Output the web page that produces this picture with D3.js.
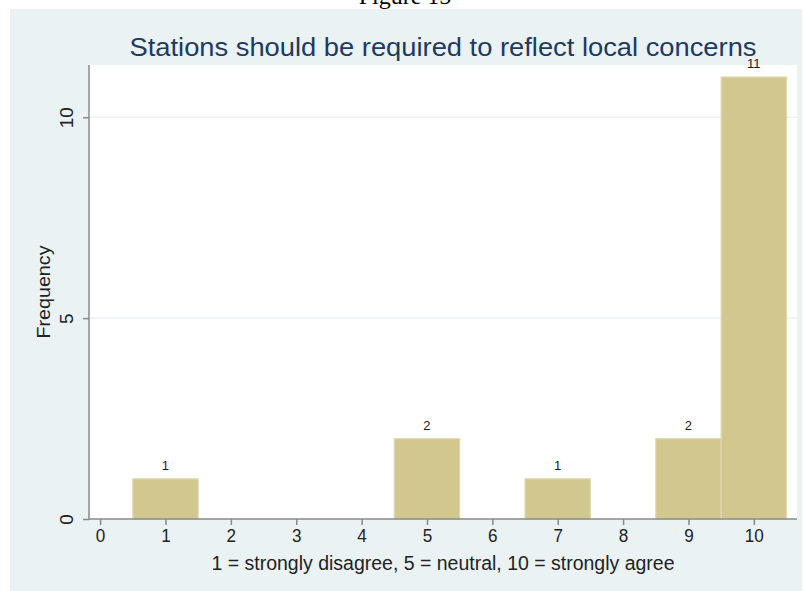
<!DOCTYPE html>
<html><head><meta charset="utf-8">
<script src="https://cdn.jsdelivr.net/npm/d3@7"></script>
<style>
html,body{margin:0;padding:0;background:#fff;}
svg{display:block;}
</style></head>
<body>
<svg id="c" width="804" height="591"></svg>
<script>
const categories = [1, 5, 7, 9, 10];
const frequencies = [1, 2, 1, 2, 11];
const xTicks = [0,1,2,3,4,5,6,7,8,9,10];
const yTicks = [0,5,10];
const titleText = "Stations should be required to reflect local concerns";
const xTitle = "1 = strongly disagree, 5 = neutral, 10 = strongly agree";
const yTitle = "Frequency";
const figureLabel = "Figure 15";

const svg = d3.select("#c");
const panel = {x:10, y:9, w:792, h:582};
const plot = {left:89, right:797, top:65, bottom:519};
const sans = "Liberation Sans, Arial, Helvetica, sans-serif";

svg.append("text").attr("x",405).attr("y",4).attr("text-anchor","middle")
  .attr("font-family","Liberation Serif, Times New Roman, serif").attr("font-size",24).attr("fill","#000")
  .text(figureLabel);

svg.append("rect").attr("x",panel.x).attr("y",panel.y).attr("width",panel.w).attr("height",panel.h).attr("fill","#eaf2f3");

const x = d3.scaleLinear().domain([-0.17, 10.66]).range([plot.left, plot.right]);
const y = d3.scaleLinear().domain([0, 11.3]).range([plot.bottom, plot.top]);

svg.append("rect").attr("x",plot.left).attr("y",plot.top).attr("width",plot.right-plot.left).attr("height",plot.bottom-plot.top).attr("fill","#fff");

// gridlines
svg.append("g").selectAll("line").data(yTicks.filter(d=>d>0)).join("line")
  .attr("x1",plot.left).attr("x2",plot.right).attr("y1",d=>y(d)).attr("y2",d=>y(d))
  .attr("stroke","#eaf2f3").attr("stroke-width",1.5);

// bars
const data = categories.map((c,i)=>({c, v:frequencies[i]}));
svg.append("g").selectAll("rect").data(data).join("rect")
  .attr("x",d=>x(d.c-0.5)).attr("width",d=>x(d.c+0.5)-x(d.c-0.5))
  .attr("y",d=>y(d.v)).attr("height",d=>y(0)-y(d.v))
  .attr("fill","#d1c78f").attr("stroke","#e0d9ad").attr("stroke-width",1.2);

// value labels
svg.append("g").selectAll("text").data(data).join("text")
  .attr("x",d=>x(d.c)).attr("y",d=>y(d.v)-9).attr("text-anchor","middle")
  .attr("font-family",sans).attr("font-size",13).attr("fill","#1a1a1a")
  .text(d=>d.v);

// y axis
const yAxis = d3.axisLeft(y).tickValues(yTicks).tickSize(6).tickPadding(8);
const gy = svg.append("g").attr("transform",`translate(${plot.left},0)`).call(yAxis);
gy.select(".domain").attr("stroke","#8a8a8a").attr("stroke-width",1.5).attr("d",`M0,${plot.top}V${plot.bottom+1}`);
gy.selectAll(".tick line").attr("stroke","#8a8a8a").attr("stroke-width",1.5);
gy.selectAll(".tick text").attr("font-family",sans).attr("font-size",19).attr("fill","#222")
  .attr("text-anchor","middle").attr("x",0).attr("y",0).attr("dy",0)
  .attr("transform","translate(-16,0) rotate(-90)");

// x axis
const xAxis = d3.axisBottom(x).tickValues(xTicks).tickSize(6).tickPadding(4);
const gx = svg.append("g").attr("transform",`translate(0,${plot.bottom})`).call(xAxis);
gx.select(".domain").attr("stroke","#8a8a8a").attr("stroke-width",1.5).attr("d",`M${plot.left},0H${plot.right}`);
gx.selectAll(".tick line").attr("stroke","#8a8a8a").attr("stroke-width",1.5);
gx.selectAll(".tick text").attr("font-family",sans).attr("font-size",19).attr("fill","#222")
  .attr("transform","scale(0.9,1)").attr("x",0);
gx.selectAll(".tick").each(function(){ d3.select(this).select("text").attr("transform","scale(0.9,1)"); });

// titles
svg.append("text").attr("x",443).attr("y",56).attr("text-anchor","middle")
  .attr("font-family",sans).attr("font-size",26).attr("fill","#1e3a5f")
  .attr("textLength",627).attr("lengthAdjust","spacingAndGlyphs")
  .text(titleText);
svg.append("text").attr("x",443).attr("y",570).attr("text-anchor","middle")
  .attr("font-family",sans).attr("font-size",20).attr("fill","#222")
  .attr("textLength",463).attr("lengthAdjust","spacingAndGlyphs")
  .text(xTitle);
svg.append("text").attr("transform",`translate(50,${(plot.top+plot.bottom)/2}) rotate(-90)`).attr("text-anchor","middle")
  .attr("font-family",sans).attr("font-size",19).attr("fill","#222")
  .attr("textLength",93).attr("lengthAdjust","spacingAndGlyphs")
  .text(yTitle);
</script>
</body></html>
